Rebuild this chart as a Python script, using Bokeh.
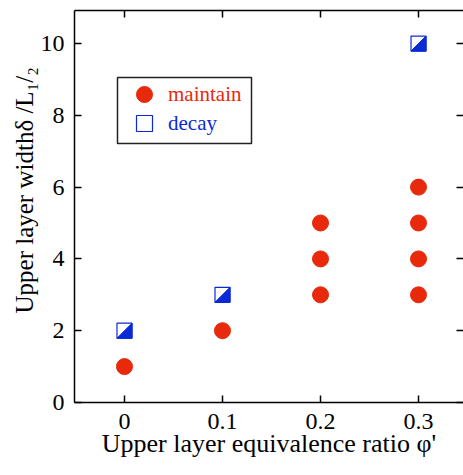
import math
from bokeh.plotting import figure
from bokeh.models import (LinearAxis, FixedTicker, CustomJSTickFormatter, Title,
                          Legend, LegendItem, BoxAnnotation, ColumnDataSource, Range1d)
from bokeh.embed import file_html
from bokeh.resources import INLINE

# ---- data ----
maintain_x = [0.0, 0.1, 0.2, 0.2, 0.2, 0.3, 0.3, 0.3, 0.3]
maintain_y = [1, 2, 3, 4, 5, 3, 4, 5, 6]
decay_x = [0.0, 0.1, 0.3]
decay_y = [2, 3, 10]
x_ticks = [0, 0.1, 0.2, 0.3]
x_tick_labels = ["0", "0.1", "0.2", "0.3"]
y_ticks = [0, 2, 4, 6, 8, 10]
series_names = ["maintain", "decay"]
x_label = "Upper layer equivalence ratio φ'"
y_label = "Upper layer widthδ /L₁/₂"

# ---- layout / style ----
FONT = "Liberation Serif"
RED = "#E8290B"
BLUE = "#0A2AD6"
X0, X1 = -0.051, 0.3459
Y0, Y1 = 0, 10.92
W, H = 463, 475
ML, MR, MT, MB = 74, 0, 10, 73
FW = W - ML - MR
FH = H - MT - MB
MS = 15  # square marker size (px)

p = figure(width=W, height=H, x_range=Range1d(X0, X1), y_range=Range1d(Y0, Y1),
           output_backend="svg", toolbar_location=None,
           min_border_left=ML, min_border_right=MR, min_border_top=MT, min_border_bottom=MB,
           x_axis_location=None, y_axis_location=None)
p.grid.visible = False
p.outline_line_color = None
p.background_fill_color = "white"
p.border_fill_color = "white"


def style_axis(ax, show_labels=True, show_line=True):
    ax.axis_line_color = "black" if show_line else None
    ax.axis_line_width = 1.5
    ax.major_tick_in = 7
    ax.major_tick_out = 0
    ax.major_tick_line_width = 1.5
    ax.major_tick_line_color = "black"
    ax.minor_tick_in = 0
    ax.minor_tick_out = 0
    ax.minor_tick_line_color = None
    if show_labels:
        ax.major_label_text_font = FONT
        ax.major_label_text_font_size = "24px"
        ax.major_label_text_color = "black"
    else:
        ax.major_label_text_font_size = "0px"
        ax.major_label_text_alpha = 0
        ax.major_label_standoff = 0


xfmt = CustomJSTickFormatter(args=dict(vals=x_ticks, labels=x_tick_labels), code="""
for (let i = 0; i < vals.length; i++) { if (Math.abs(vals[i] - tick) < 1e-9) return labels[i]; }
return '';
""")
empty_fmt = CustomJSTickFormatter(code="return '';")

bottom = LinearAxis(ticker=FixedTicker(ticks=x_ticks), formatter=xfmt)
style_axis(bottom)
bottom.major_label_standoff = 11
bottom.axis_label = x_label
bottom.axis_label_text_font = FONT
bottom.axis_label_text_font_size = "26px"
bottom.axis_label_text_font_style = "normal"
bottom.axis_label_text_color = "black"
bottom.axis_label_standoff = -3
p.add_layout(bottom, "below")

top = LinearAxis(ticker=FixedTicker(ticks=x_ticks), formatter=empty_fmt)
style_axis(top, show_labels=False)
p.add_layout(top, "above")

left = LinearAxis(ticker=FixedTicker(ticks=y_ticks))
style_axis(left)
left.major_label_standoff = 10
p.add_layout(left, "left")

right = LinearAxis(ticker=FixedTicker(ticks=y_ticks), formatter=empty_fmt)
style_axis(right, show_labels=False, show_line=False)
p.add_layout(right, "right")

# y axis title, aligned to start near the lower part of the frame
p.add_layout(Title(text=y_label, align="left", offset=89, standoff=0,
                   vertical_align="bottom", text_font=FONT, text_font_size="25px",
                   text_font_style="normal", text_color="black"), "left")

# ---- marks ----
src_m = ColumnDataSource(dict(x=maintain_x, y=maintain_y))
src_d = ColumnDataSource(dict(x=decay_x, y=decay_y))
r_m = p.scatter("x", "y", source=src_m, marker="circle", size=16,
                fill_color=RED, line_color=RED, line_width=1)
r_d = p.scatter("x", "y", source=src_d, marker="square", size=MS,
                fill_color="white", line_color=BLUE, line_width=1.2)
hx = (MS / 2) / (FW / (X1 - X0))
hy = (MS / 2) / (FH / (Y1 - Y0))
tri_xs = [[x + hx, x + hx, x - hx] for x in decay_x]
tri_ys = [[y + hy, y - hy, y - hy] for y in decay_y]
p.patches(tri_xs, tri_ys, fill_color=BLUE, line_color=BLUE, line_width=1)

# ---- legend ----
box = BoxAnnotation(left=43, right=177, bottom=259, top=325,
                    left_units="screen", right_units="screen",
                    top_units="screen", bottom_units="screen",
                    fill_color="white", fill_alpha=1,
                    line_color="#222222", line_alpha=1, line_width=1.5)
p.add_layout(box)


def make_legend(name, rend, color, loc):
    return Legend(items=[LegendItem(label=name, renderers=[rend])], location=loc,
                  padding=0, spacing=0, margin=0, glyph_width=40, glyph_height=40,
                  label_standoff=4, border_line_color=None, background_fill_alpha=0,
                  label_text_font=FONT, label_text_font_size="21px", label_text_color=color)


p.add_layout(make_legend(series_names[0], r_m, RED, (50, 288)))
p.add_layout(make_legend(series_names[1], r_d, BLUE, (50, 259)))

open("out.html", "w").write(file_html(p, INLINE))
